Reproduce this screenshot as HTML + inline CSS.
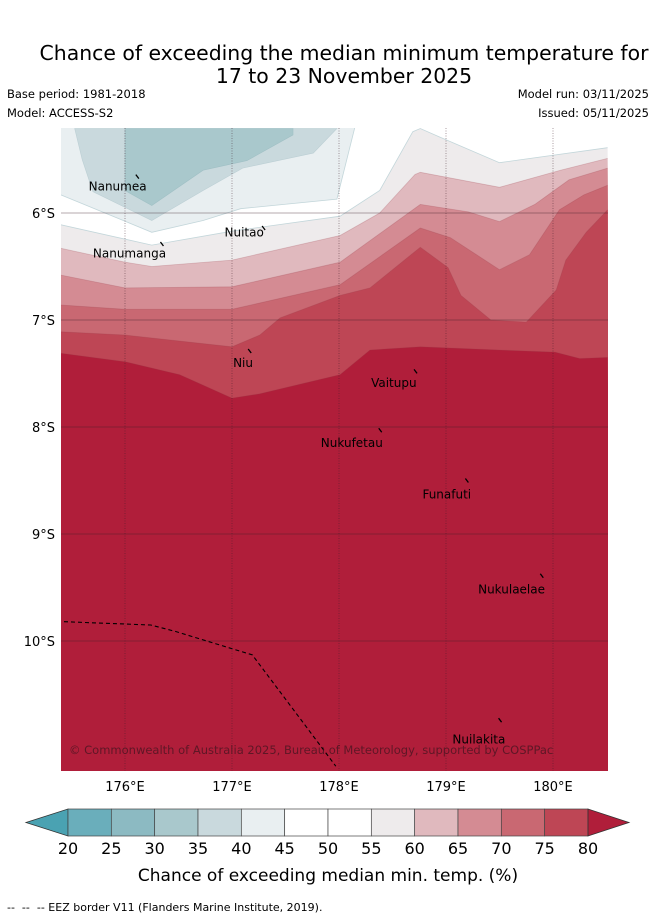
<!DOCTYPE html>
<html><head><meta charset="utf-8">
<style>
body{margin:0;background:#fff;width:655px;height:919px;overflow:hidden;font-family:"Liberation Sans","DejaVu Sans",sans-serif;}
svg text{font-family:"DejaVu Sans","Liberation Sans",sans-serif;}
</style></head>
<body>
<svg id="map" width="655" height="919" viewBox="0 0 655 919">
<text x="344" y="60" font-size="20.4" text-anchor="middle" fill="#000">Chance of exceeding the median minimum temperature for</text>
<text x="344" y="83" font-size="20.4" text-anchor="middle" fill="#000">17 to 23 November 2025</text>
<text x="7" y="98" font-size="11.5">Base period: 1981-2018</text>
<text x="7" y="117" font-size="11.5">Model: ACCESS-S2</text>
<text x="649" y="98" font-size="11.5" text-anchor="end">Model run: 03/11/2025</text>
<text x="649" y="117" font-size="11.5" text-anchor="end">Issued: 05/11/2025</text>
<defs><clipPath id="mc"><rect x="61" y="128" width="547" height="643"/></clipPath></defs>
<g id="plot" clip-path="url(#mc)"></g>
<g id="cbar"></g>
<text x="328" y="881" font-size="17" text-anchor="middle">Chance of exceeding median min. temp. (%)</text>
<text x="7" y="911" font-size="11">-- &#160;-- &#160;-- EEZ border V11 (Flanders Marine Institute, 2019).</text>
</svg>
<script>
const lonTicks=[176,177,178,179,180];
const latTicks=[6,7,8,9,10];
const levels=[20,25,30,35,40,45,50,55,60,65,70,75,80];
const levelColors=["#6aaebb","#8cbac2","#a9c8cc","#c9d9dd","#e9eff1","#ffffff","#ffffff","#eeebec","#e0b9be","#d48b93","#c96872","#be4655"];
const underColor="#4aa2b2", overColor="#b01e3a";
const band35=[[175.53,5.21],[177.98,5.21],[177.76,5.44],[177.1,5.58],[176.73,5.79],[176.25,6.07],[175.7,5.8],[175.6,5.5]];
const band30=[[176,5.21],[177.57,5.21],[177.57,5.27],[177.14,5.51],[176.73,5.6],[176.25,5.93],[176,5.79]];
const line45=[[175.4,5.83],[176.25,6.18],[176.73,6.07],[177.08,5.96],[177.98,5.87],[178.15,5.19],[180.6,5.19]];
const line55=[[175.4,6.11],[176.25,6.3],[177,6.17],[178.01,6.03],[178.38,5.79],[178.69,5.24],[178.76,5.21],[178.94,5.29],[179.5,5.53],[180.51,5.39]];
const line60=[[175.4,6.33],[176,6.46],[176.25,6.5],[177,6.44],[178.01,6.21],[178.38,6.0],[178.71,5.64],[178.76,5.62],[179.5,5.76],[180.07,5.6],[180.51,5.49]];
const line65=[[175.4,6.58],[176,6.7],[177,6.69],[178.01,6.46],[178.76,5.92],[179.21,5.99],[179.5,6.08],[179.83,5.92],[180.15,5.69],[180.51,5.58]];
const line70=[[175.4,6.86],[176,6.9],[177,6.9],[178.01,6.67],[178.76,6.14],[179.04,6.23],[179.5,6.53],[179.78,6.39],[180.06,5.97],[180.29,5.83],[180.51,5.74]];
const line75=[[175.4,7.11],[176,7.14],[177,7.25],[177.26,7.14],[177.45,6.98],[178.01,6.77],[178.29,6.7],[178.76,6.32],[179.02,6.51],[179.14,6.77],[179.42,7.0],[179.75,7.02],[180.03,6.72],[180.12,6.44],[180.31,6.18],[180.51,5.97]];
const line80=[[175.4,7.31],[176,7.39],[176.51,7.51],[177,7.73],[177.26,7.69],[178.01,7.51],[178.29,7.28],[178.76,7.25],[179.5,7.28],[180.02,7.3],[180.25,7.36],[180.51,7.35]];
const eez=[[175.43,9.82],[176.24,9.85],[176.47,9.91],[177.19,10.13],[177.55,10.61],[177.97,11.17]];
const islands=["Nanumea","Nanumanga","Nuitao","Niu","Vaitupu","Nukufetau","Funafuti","Nukulaelae","Nuilakita"];
const islandLon=[176.12,176.35,177.3,177.17,178.72,178.39,179.2,179.9,179.51];
const islandLat=[5.66,6.29,6.14,7.29,7.48,8.03,8.5,9.39,10.74];
const labelLon=[175.66,175.7,176.93,177.01,178.3,177.83,178.78,179.3,179.06];
const labelLat=[5.75,6.38,6.18,7.4,7.59,8.15,8.63,9.52,10.92];

const X0=61,X1=608,Y0=128,Y1=771;
const px=lon=>125+(lon-176)*107;
const py=lat=>213+(lat-6)*107;
const NS="http://www.w3.org/2000/svg";
const plot=document.getElementById('plot');
function mk(tag,attrs,parent){const e=document.createElementNS(NS,tag);for(const k in attrs)e.setAttribute(k,attrs[k]);parent.appendChild(e);return e;}
function pts(a){return a.map(p=>px(p[0]).toFixed(1)+","+py(p[1]).toFixed(1)).join(" ");}
let bg=mk('rect',{x:X0,y:Y0,width:X1-X0,height:Y1-Y0,fill:levelColors[4]},plot);


let s35=mk('polygon',{points:pts(band35),fill:levelColors[3],stroke:"#bccfd4","stroke-width":0.6},plot);


let s30=mk('polygon',{points:pts(band30),fill:levelColors[2],stroke:"#a0c0c5","stroke-width":0.6},plot);


const lines=[[line45,5,'band-45-55'],[line55,7,'band-55-60'],[line60,8,'band-60-65'],[line65,9,'band-65-70'],[line70,10,'band-70-75'],[line75,11,'band-75-80'],[line80,-1,'band-above-80']];
lines.forEach(([ln,ci,nm])=>{
  const col=ci<0?overColor:levelColors[ci];
  const p=pts(ln)+" "+(X1+5)+","+(Y1+5)+" "+(X0-5)+","+(Y1+5);
  const e=mk('polygon',{points:p,fill:col},plot);
  
  
  const l=mk('polyline',{points:pts(ln),fill:"none",stroke:(ci>=0&&ci<8)?"#c3d6da":"rgba(150,60,70,0.25)","stroke-width":0.8},plot);
  
  
});
lonTicks.forEach(v=>{
  const l=mk('line',{x1:px(v),x2:px(v),y1:Y0,y2:Y1,stroke:"rgba(60,30,40,0.55)","stroke-width":0.8,"stroke-dasharray":"1,1.5"},plot);
  
  
});
latTicks.forEach(v=>{
  const l=mk('line',{x1:X0,x2:X1,y1:py(v),y2:py(v),stroke:"rgba(60,30,40,0.5)","stroke-width":0.8},plot);
  
  
});
const ez=mk('polyline',{points:pts(eez),fill:"none",stroke:"#000","stroke-width":1.1,"stroke-dasharray":"4,3"},plot);


islands.forEach((n,i)=>{
  const d=mk('line',{x1:px(islandLon[i])-2,y1:py(islandLat[i])-2,x2:px(islandLon[i])+1,y2:py(islandLat[i])+2,stroke:"#000","stroke-width":1.3},plot);
  
  
  const t=mk('text',{x:px(labelLon[i]),y:py(labelLat[i])+4,"font-size":12,fill:"#000"},plot);
  t.textContent=n;
  
  
});
const cp=mk('text',{x:69,y:754,"font-size":11.5,fill:"rgba(60,20,30,0.7)"},plot);
cp.textContent="© Commonwealth of Australia 2025, Bureau of Meteorology, supported by COSPPac";


const svg=document.getElementById('map');
lonTicks.forEach(v=>{
  const t=mk('text',{x:px(v),y:791,"font-size":13,"text-anchor":"middle"},svg);
  t.textContent=v+"°E";
  
  
});
latTicks.forEach(v=>{
  const t=mk('text',{x:55,y:py(v)+5,"font-size":13,"text-anchor":"end"},svg);
  t.textContent=v+"°S";
  
  
});
const cb=document.getElementById('cbar');
const CX0=68,CX1=588,CY=809,CH=27;
const CW=(CX1-CX0)/levelColors.length;
const lt=mk('polygon',{points:`${CX0},${CY} ${CX0},${CY+CH} 26,${CY+CH/2}`,fill:underColor,stroke:"#333","stroke-width":0.8},cb);


levelColors.forEach((c,i)=>{
  const r=mk('rect',{x:CX0+i*CW,y:CY,width:CW,height:CH,fill:c,stroke:"#444","stroke-width":0.7},cb);
  
  
});
const rt=mk('polygon',{points:`${CX1},${CY} ${CX1},${CY+CH} 629,${CY+CH/2}`,fill:overColor,stroke:"#333","stroke-width":0.8},cb);


levels.forEach((v,i)=>{
  const t=mk('text',{x:CX0+i*CW,y:854,"font-size":16,"text-anchor":"middle"},cb);
  t.textContent=v;
  
  
});
</script>
</body></html>
